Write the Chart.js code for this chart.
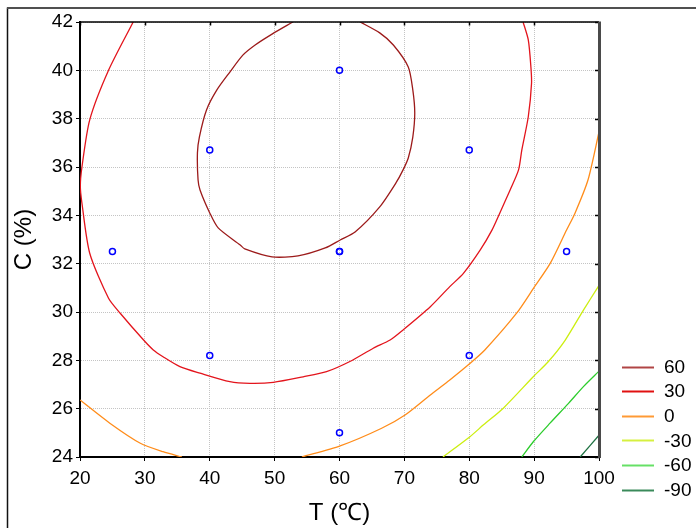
<!DOCTYPE html>
<html>
<head>
<meta charset="utf-8">
<script src="https://cdn.jsdelivr.net/npm/chart.js@4"></script>
<style>
  html, body { margin: 0; padding: 0; background: #fff; }
  #wrap { width: 696px; height: 528px; }
</style>
</head>
<body>
<div id="wrap"><canvas id="contourChart" width="696" height="528"></canvas></div>
<script>
// axis ticks
const tempTicks = [20, 30, 40, 50, 60, 70, 80, 90, 100];
const concTicks = [24, 26, 28, 30, 32, 34, 36, 38, 40, 42];

// experimental runs (T, C)
const runT = [25, 40, 40, 60, 60, 60, 60, 80, 80, 95];
const runC = [32.5, 36.7, 28.2, 40, 32.5, 32.5, 25, 36.7, 28.2, 32.5];

// contour levels of the response surface
const levels = ['60', '30', '0', '-30', '-60', '-90'];

// iso-lines as [T, C] pairs
const contour60 = [[52.8, 42], [49.6, 41.5], [47.0, 41.05], [45.1, 40.63], [43.1, 39.93], [41.1, 39.19],
  [39.5, 38.36], [38.4, 37.24], [38.1, 36.58], [38.2, 35.46], [38.5, 35.05], [40.0, 34.1], [41.3, 33.48],
  [44.7, 32.77], [45.4, 32.61], [49.6, 32.28], [53.6, 32.32], [57.8, 32.65], [60.1, 32.98], [62.4, 33.31],
  [66.2, 34.35], [68.7, 35.34], [69.8, 35.88], [70.6, 36.37], [71.3, 37.24], [71.6, 38.23], [71.3, 39.19],
  [70.6, 40.14], [68.3, 41.05], [66.2, 41.55], [63.2, 42]];
const contour30 = [[28.2, 42], [24.4, 40.0], [21.5, 37.95], [20.3, 36.0], [20.05, 35.2], [20.3, 34.5],
  [21.5, 32.43], [24.4, 30.57], [26.2, 29.95], [29.8, 28.84], [31.3, 28.43], [32.8, 28.15], [35.4, 27.74],
  [38.5, 27.47], [43.1, 27.12], [46.2, 27.05], [49.8, 27.09], [54.4, 27.32], [58.0, 27.53], [61.6, 27.95],
  [65.2, 28.5], [67.8, 28.84], [69.8, 29.26], [74.0, 30.22], [77.0, 31.05], [79.1, 31.6], [81.7, 32.57],
  [83.5, 33.39], [84.7, 34.09], [86.3, 35.05], [87.6, 35.88], [88.1, 36.7], [89.1, 38.08], [89.6, 39.46],
  [89.5, 40.15], [89.1, 41.26], [88.3, 42]];
const contour0Left = [[20, 26.36], [24.6, 25.4], [29.3, 24.57], [32.8, 24.22], [35.7, 24]];
const contour0Right = [[54.2, 24], [60.1, 24.46], [66.5, 25.19], [70.1, 25.74], [74.0, 26.57], [77.0, 27.19],
  [80.0, 27.85], [82.4, 28.43], [87.3, 29.95], [89.9, 30.98], [92.5, 32.02], [95.0, 33.39], [96.3, 34.09],
  [98.3, 35.46], [100, 37.45]];
const contourM30 = [[75.95, 24], [80.1, 24.84], [82.2, 25.33], [85.25, 26.02], [89.9, 27.33], [92.2, 27.95],
  [94.8, 28.84], [97.6, 30.08], [100, 31.1]];
const contourM60 = [[88.1, 24], [89.9, 24.64], [92.45, 25.4], [95.3, 26.22], [97.6, 26.91], [100, 27.55]];
const contourM90 = [[97.1, 24], [100, 24.9]];

const levelColors = ['#9c1a1a', '#e3141c', '#ff8c1a', '#ccee10', '#2ccc2c', '#1c7040'];
const legendColors = ['#b04545', '#e01010', '#ff9a35', '#d6f040', '#66e066', '#3a8a5a'];

const toXY = arr => arr.map(p => ({ x: p[0], y: p[1] }));

function contourSet(points, lvl) {
  return {
    type: 'line',
    label: levels[lvl],
    data: toXY(points),
    borderColor: levelColors[lvl],
    borderWidth: 1.3,
    pointRadius: 0,
    tension: 0.25,
    fill: false,
    order: 2
  };
}

// frame on top/right and the level legend
const framePlugin = {
  id: 'frame',
  afterDraw(chart) {
    const { ctx, chartArea: a, scales } = chart;
    ctx.save();
    // outer panel edge
    ctx.strokeStyle = '#111';
    ctx.lineWidth = 1.5;
    ctx.beginPath();
    ctx.moveTo(7.5, 528);
    ctx.lineTo(7.5, 7.5);
    ctx.stroke();
    ctx.strokeStyle = '#505050';
    ctx.lineWidth = 2;
    ctx.beginPath();
    ctx.moveTo(7, 8);
    ctx.lineTo(696, 8);
    ctx.stroke();

    // top axis with inner ticks
    ctx.strokeStyle = '#000';
    ctx.lineWidth = 1.5;
    ctx.beginPath();
    ctx.moveTo(a.left, a.top);
    ctx.lineTo(a.right, a.top);
    tempTicks.forEach(t => {
      const x = Math.round(scales.x.getPixelForValue(t)) + 0.5;
      ctx.moveTo(x, a.top);
      ctx.lineTo(x, a.top + 3.5);
    });
    ctx.stroke();

    // right axis with inner ticks
    ctx.lineWidth = 1.5;
    ctx.beginPath();
    concTicks.forEach(c => {
      const y = Math.round(scales.y.getPixelForValue(c)) + 0.5;
      ctx.moveTo(a.right, y);
      ctx.lineTo(a.right - 4, y);
    });
    ctx.stroke();
    ctx.strokeStyle = '#4a4a4a';
    ctx.lineWidth = 3;
    ctx.beginPath();
    ctx.moveTo(a.right + 0.5, a.top - 0.5);
    ctx.lineTo(a.right + 0.5, a.bottom + 1);
    ctx.stroke();

    // legend
    ctx.font = '19px "Liberation Sans", Arial, sans-serif';
    ctx.textBaseline = 'middle';
    ctx.textAlign = 'left';
    ctx.fillStyle = '#000';
    levels.forEach((lv, i) => {
      const y = a.bottom - 90.5 + i * 24.6;
      ctx.strokeStyle = legendColors[i];
      ctx.lineWidth = 2;
      ctx.beginPath();
      ctx.moveTo(a.right + 23, Math.round(y) + 0.5);
      ctx.lineTo(a.right + 55, Math.round(y) + 0.5);
      ctx.stroke();
      ctx.fillText(lv, a.right + 65, y + 1);
    });
    ctx.restore();
  }
};

Chart.defaults.font.family = '"Liberation Sans", Arial, sans-serif';
Chart.defaults.color = '#000';

const datasets = [
  {
    type: 'scatter',
    label: 'runs',
    data: runT.map((t, i) => ({ x: t, y: runC[i] })),
    pointStyle: 'circle',
    pointRadius: 3,
    borderWidth: 1.5,
    borderColor: '#0000ff',
    backgroundColor: 'rgba(255,255,255,0)',
    order: 0
  },
  contourSet(contour60, 0),
  contourSet(contour30, 1),
  contourSet(contour0Left, 2),
  contourSet(contour0Right, 2),
  contourSet(contourM30, 3),
  contourSet(contourM60, 4),
  contourSet(contourM90, 5)
];

const gridOpts = {
  color: '#c4c4c4',
  lineWidth: 1,
  tickLength: 4,
  tickColor: '#000',
  tickWidth: 1,
  tickBorderDash: []
};

new Chart(document.getElementById('contourChart'), {
  type: 'scatter',
  data: { datasets },
  options: {
    responsive: false,
    devicePixelRatio: 1,
    animation: false,
    layout: { padding: { top: 22, right: 97, bottom: 0, left: 0 } },
    plugins: {
      legend: { display: false },
      tooltip: { enabled: false }
    },
    scales: {
      x: {
        type: 'linear',
        min: 20,
        max: 100,
        afterBuildTicks: s => { s.ticks = tempTicks.map(v => ({ value: v })); },
        afterFit: s => { s.height = 71; },
        grid: gridOpts,
        border: { color: '#000', width: 2, dash: [1, 1] },
        ticks: { font: { size: 19 }, padding: 6, maxRotation: 0, autoSkip: false },
        title: {
          display: true,
          text: 'T (℃)',
          font: { size: 24, lineHeight: 1.2 },
          padding: { top: 0, bottom: 0 }
        }
      },
      y: {
        type: 'linear',
        min: 24,
        max: 42,
        afterBuildTicks: s => { s.ticks = concTicks.map(v => ({ value: v })); },
        afterFit: s => { s.width = 80; },
        grid: gridOpts,
        border: { color: '#000', width: 2, dash: [1, 1] },
        ticks: { font: { size: 19 }, padding: 3, autoSkip: false },
        title: {
          display: true,
          text: 'C (%)',
          font: { size: 24, lineHeight: 1.2 },
          padding: { top: 10, bottom: 0 }
        }
      }
    }
  },
  plugins: [framePlugin]
});
</script>
</body>
</html>
